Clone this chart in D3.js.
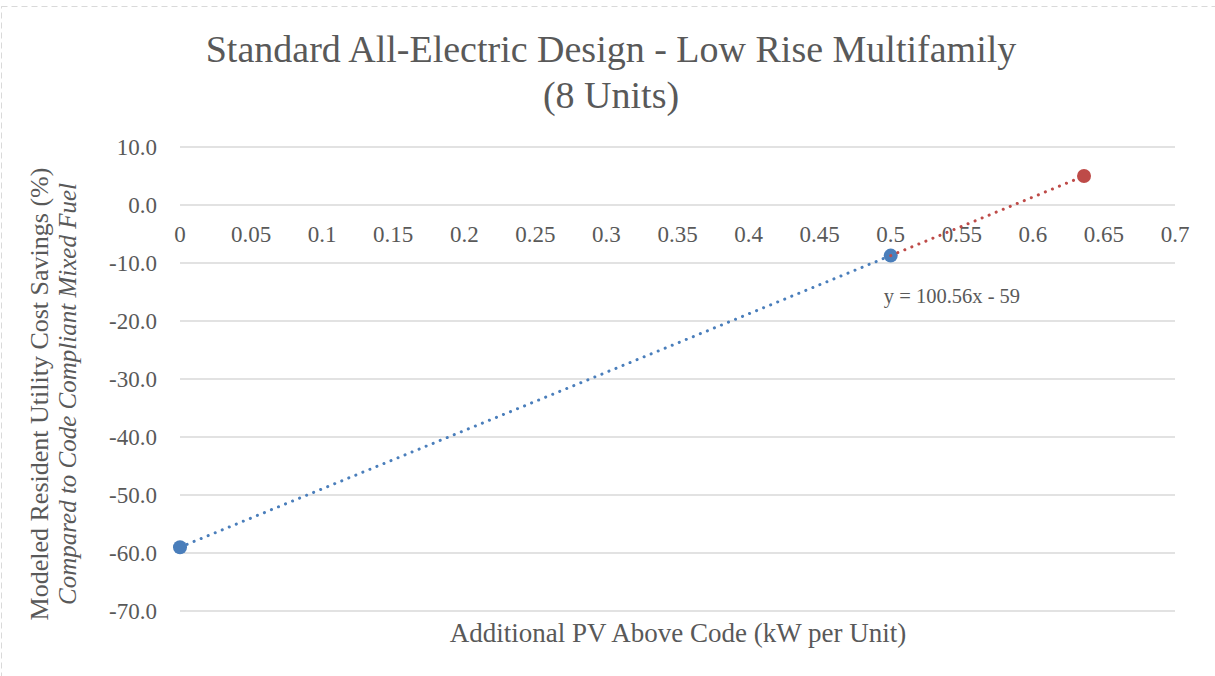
<!DOCTYPE html>
<html>
<head>
<meta charset="utf-8">
<script src="https://cdn.jsdelivr.net/npm/d3@7"></script>
<style>
  body { margin: 0; background: #fff; }
  text { font-family: "Liberation Serif", "DejaVu Serif", serif; fill: #595959; }
</style>
</head>
<body>
<div id="chart"></div>
<script>
// data
const baseSeries = [{x: 0, y: -59.0}, {x: 0.5, y: -8.72}];
const extraSeries = [{x: 0.5, y: -8.72}, {x: 0.636, y: 5.0}];
const xTicks = [0, 0.05, 0.1, 0.15, 0.2, 0.25, 0.3, 0.35, 0.4, 0.45, 0.5, 0.55, 0.6, 0.65, 0.7];
const yTicks = [10, 0, -10, -20, -30, -40, -50, -60, -70];
const trendLabel = "y = 100.56x - 59";

const width = 1215, height = 676;
const blue = "#4a7ebb", red = "#be4b48";

const svg = d3.select("#chart").append("svg")
    .attr("width", width)
    .attr("height", height);

// chart border (dashed)
svg.append("rect")
    .attr("x", 1.5).attr("y", 6.5)
    .attr("width", width + 10).attr("height", height + 10)
    .attr("fill", "none")
    .attr("stroke", "#d9d9d9")
    .attr("stroke-dasharray", "6 4");

const x = d3.scaleLinear().domain([0, 0.7]).range([180, 1175]);
const y = d3.scaleLinear().domain([-70, 10]).range([611, 147]);

// gridlines
svg.append("g").selectAll("line")
    .data(yTicks)
    .enter().append("line")
    .attr("x1", x(0)).attr("x2", x(0.7))
    .attr("y1", d => y(d)).attr("y2", d => y(d))
    .attr("stroke", "#d9d9d9")
    .attr("stroke-width", 1.3);

// y tick labels
svg.append("g").selectAll("text")
    .data(yTicks)
    .enter().append("text")
    .attr("x", 157)
    .attr("y", d => y(d) + 8)
    .attr("text-anchor", "end")
    .attr("font-size", 23)
    .text(d => d.toFixed(1));

// x tick labels sit along the zero line
svg.append("g").selectAll("text")
    .data(xTicks)
    .enter().append("text")
    .attr("x", d => x(d))
    .attr("y", y(0) + 37)
    .attr("text-anchor", "middle")
    .attr("font-size", 23)
    .text(d => d);

// dotted lines
const line = d3.line().x(d => x(d.x)).y(d => y(d.y));

svg.append("path")
    .datum(baseSeries)
    .attr("d", line)
    .attr("fill", "none")
    .attr("stroke", blue)
    .attr("stroke-width", 3)
    .attr("stroke-linecap", "round")
    .attr("stroke-dasharray", "0.1 7.5");

// markers
svg.append("g").selectAll("circle")
    .data(baseSeries)
    .enter().append("circle")
    .attr("cx", d => x(d.x)).attr("cy", d => y(d.y))
    .attr("r", 7)
    .attr("fill", blue);

// red line passes over the blue marker at 0.5
svg.append("path")
    .datum(extraSeries)
    .attr("d", line)
    .attr("fill", "none")
    .attr("stroke", red)
    .attr("stroke-width", 3)
    .attr("stroke-linecap", "round")
    .attr("stroke-dasharray", "0.1 7.5");

svg.append("circle")
    .attr("cx", x(extraSeries[1].x)).attr("cy", y(extraSeries[1].y))
    .attr("r", 7)
    .attr("fill", red);

// trendline equation
svg.append("text")
    .attr("x", 952)
    .attr("y", 303)
    .attr("text-anchor", "middle")
    .attr("font-size", 20.5)
    .text(trendLabel);

// title
svg.append("text")
    .attr("x", 611).attr("y", 62)
    .attr("text-anchor", "middle")
    .attr("font-size", 38)
    .text("Standard All-Electric Design - Low Rise Multifamily");
svg.append("text")
    .attr("x", 611).attr("y", 108)
    .attr("text-anchor", "middle")
    .attr("font-size", 38)
    .text("(8 Units)");

// axis titles
svg.append("text")
    .attr("x", 678).attr("y", 642)
    .attr("text-anchor", "middle")
    .attr("font-size", 27)
    .text("Additional PV Above Code (kW per Unit)");

const yTitle = svg.append("g").attr("transform", "translate(48,394) rotate(-90)");
yTitle.append("text")
    .attr("text-anchor", "middle")
    .attr("font-size", 26)
    .text("Modeled Resident Utility Cost Savings (%)");
yTitle.append("text")
    .attr("y", 28)
    .attr("text-anchor", "middle")
    .attr("font-size", 25)
    .attr("font-style", "italic")
    .text("Compared to Code Compliant Mixed Fuel");
</script>
</body>
</html>
